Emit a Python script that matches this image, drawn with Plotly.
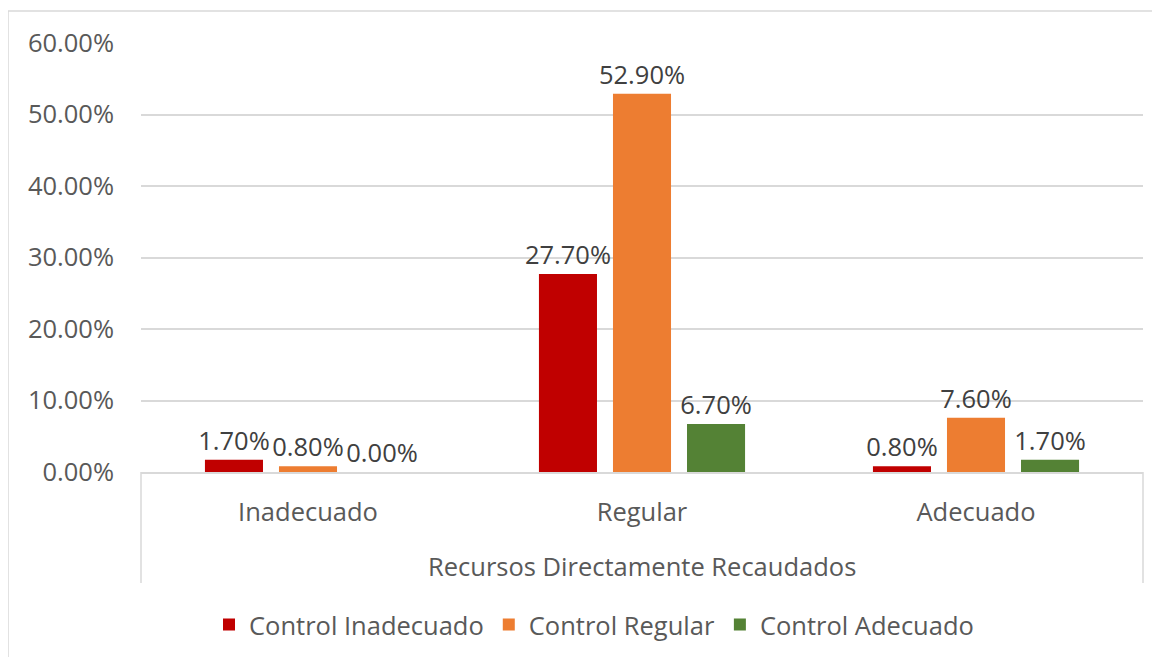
import plotly.graph_objects as go

categories = ["Inadecuado", "Regular", "Adecuado"]
series_names = ["Control Inadecuado", "Control Regular", "Control Adecuado"]
control_inadecuado = [0.017, 0.277, 0.008]
control_regular = [0.008, 0.529, 0.076]
control_adecuado = [0.000, 0.067, 0.017]
y_ticks = [0, 0.1, 0.2, 0.3, 0.4, 0.5, 0.6]
axis_title = "Recursos Directamente Recaudados"

colors = ["#C00000", "#ED7D31", "#548235"]
FONT = "Open Sans"
FS = 25.5

OFF = 8  # browser body margin
W, H = 1160 - OFF, 657 - OFF
L, R, T, B = 141 - OFF, 1143 - OFF, 43 - OFF, 472 - OFF

fig = go.Figure()
for name, vals, col in zip(series_names, [control_inadecuado, control_regular, control_adecuado], colors):
    fig.add_trace(go.Bar(
        x=categories, y=vals, name=name, marker=dict(color=col, line=dict(width=0)),
        text=[f"{v*100:.2f}%" for v in vals], textposition="outside", constraintext="none",
        textfont=dict(family=FONT, size=FS, color="#404040"), cliponaxis=False,
    ))

def px(x):
    return (x - OFF - L) / (R - L)

def py(y):
    return (B - (y - OFF)) / (B - T)

shapes = [
    dict(type="line", xref="paper", yref="paper", x0=0, x1=0, y0=0, y1=py(583), line=dict(color="#D9D9D9", width=1.5)),
    dict(type="line", xref="paper", yref="paper", x0=1, x1=1, y0=0, y1=py(583), line=dict(color="#D9D9D9", width=1.5)),
    dict(type="rect", xref="paper", yref="paper", x0=px(8), x1=px(1175), y0=py(670), y1=py(11), line=dict(color="#D9D9D9", width=1.5)),
]

fig.update_layout(
    width=W, height=H,
    margin=dict(l=L, r=W - R, t=T, b=H - B, pad=0),
    paper_bgcolor="white", plot_bgcolor="white",
    barmode="group", bargap=0.335, bargroupgap=0.216,
    font=dict(family=FONT, size=FS, color="#595959"),
    shapes=shapes,
    showlegend=True,
    legend=dict(orientation="h", xref="container", yref="container", x=(594 - OFF) / W, xanchor="center",
                y=1 - (625 - OFF) / H, yanchor="middle", font=dict(family=FONT, size=FS, color="#595959"),
                itemwidth=30, tracegroupgap=0, traceorder="normal"),
    annotations=[dict(text=axis_title, xref="paper", yref="paper", x=0.5, y=py(566), showarrow=False,
                      xanchor="center", yanchor="middle", font=dict(family=FONT, size=FS, color="#595959"))],
)
fig.update_xaxes(showline=True, linecolor="#D9D9D9", linewidth=1.5, ticks="", showgrid=False,
                 ticklabelstandoff=17, tickfont=dict(family=FONT, size=FS, color="#595959"))
fig.update_yaxes(range=[0, 0.6], tickvals=y_ticks, tickformat=".2%", showgrid=True, gridcolor="#D9D9D9",
                 gridwidth=1.5, zeroline=False, showline=False, ticks="", ticklabelstandoff=26,
                 tickfont=dict(family=FONT, size=FS, color="#595959"))

fig.write_html("out.html")
